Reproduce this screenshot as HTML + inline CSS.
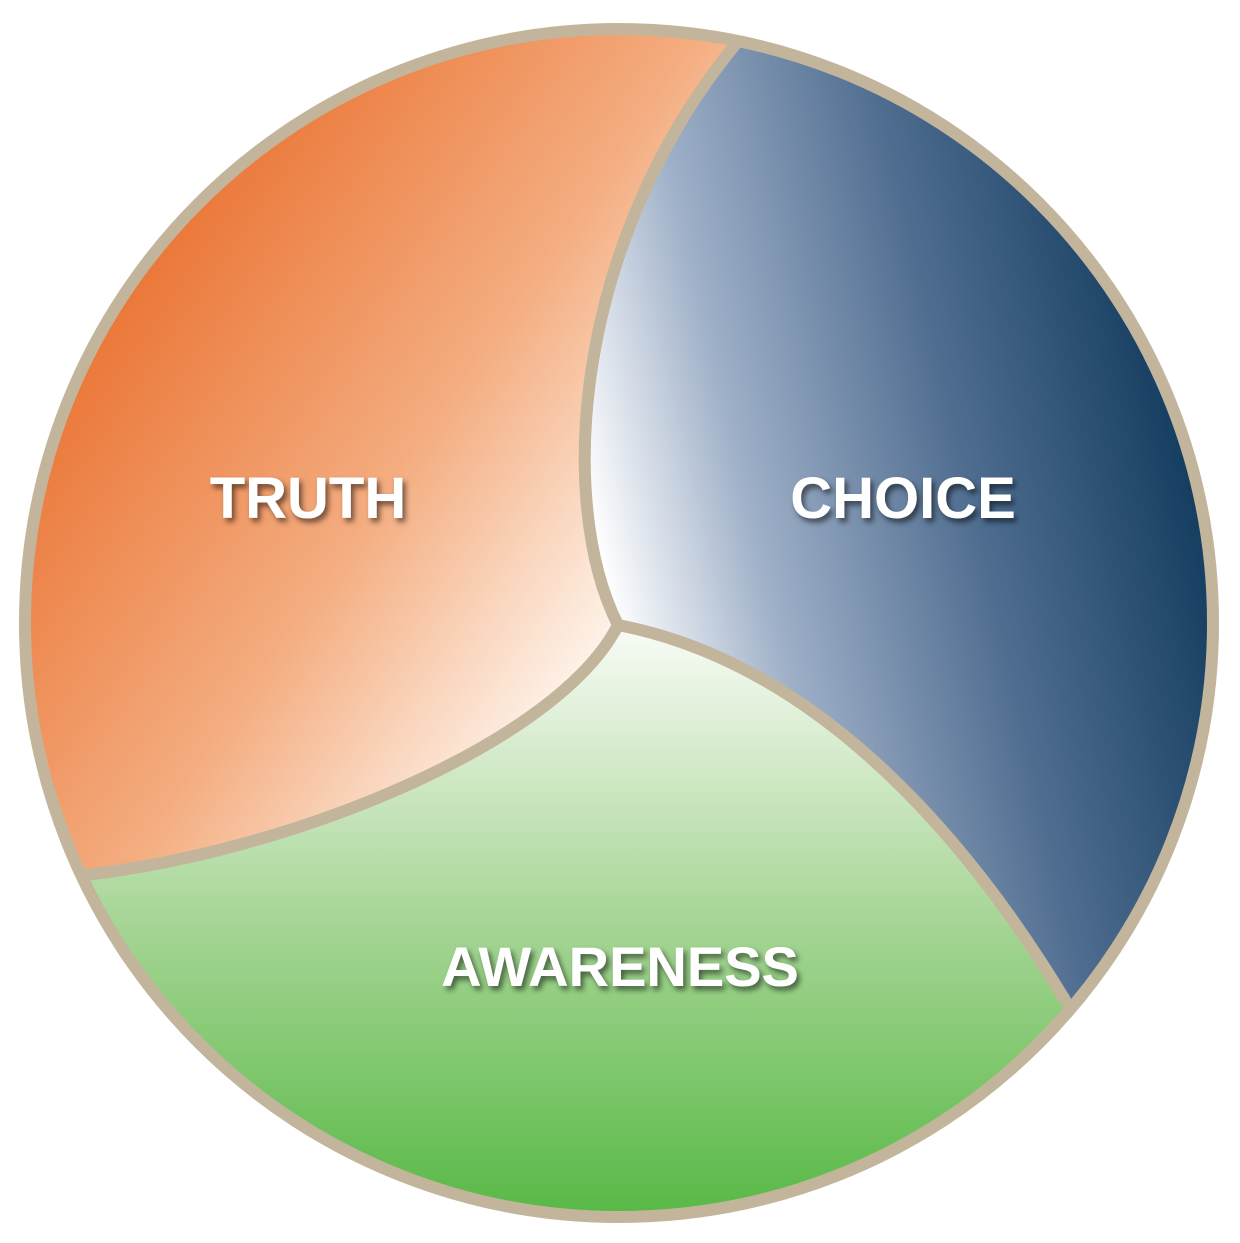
<!DOCTYPE html>
<html><head><meta charset="utf-8"><style>
html,body{margin:0;padding:0;background:#fff;}
svg{display:block;}
text{font-family:"Liberation Sans",sans-serif;font-weight:bold;fill:#fff;}
</style></head><body>
<svg width="1240" height="1243" viewBox="0 0 1240 1243" xmlns="http://www.w3.org/2000/svg">
<defs>
<clipPath id="c"><circle cx="619" cy="623" r="592"/></clipPath>
<linearGradient id="gt" x1="60" y1="330" x2="600" y2="700" gradientUnits="userSpaceOnUse">
<stop offset="0" stop-color="#ea7232"/><stop offset="0.55" stop-color="#f4ad80"/><stop offset="1" stop-color="#fffaf5"/>
</linearGradient>
<linearGradient id="gc" x1="600" y1="560" x2="1210" y2="420" gradientUnits="userSpaceOnUse">
<stop offset="0" stop-color="#ffffff"/><stop offset="0.25" stop-color="#9fb0c8"/><stop offset="0.6" stop-color="#4f6d90"/><stop offset="1" stop-color="#0d375a"/>
</linearGradient>
<linearGradient id="ga" x1="0" y1="630" x2="0" y2="1215" gradientUnits="userSpaceOnUse">
<stop offset="0" stop-color="#f8fbf5"/><stop offset="0.5" stop-color="#a6d595"/><stop offset="1" stop-color="#58b946"/>
</linearGradient>
<filter id="sh" x="-20%" y="-40%" width="140%" height="180%">
<feDropShadow dx="3" dy="4" stdDeviation="3" flood-color="#000" flood-opacity="0.55"/>
</filter>
</defs>
<g clip-path="url(#c)">
<rect x="0" y="0" width="1240" height="1243" fill="url(#ga)"/>
<path d="M618,625 C555,500 575,240 735,45 L735,0 L0,0 L0,880 L85,875 C300,850 560,740 618,625 Z" fill="url(#gt)"/>
<path d="M618,625 C555,500 575,240 735,45 L735,0 L1240,0 L1240,1010 L1065,1000 C950,810 800,660 618,625 Z" fill="url(#gc)"/>
</g>
<g fill="none" stroke="#c2b59b" stroke-width="12" stroke-linecap="round">
<path d="M618,625 C555,500 575,240 735,45"/>
<path d="M618,625 C560,740 300,850 85,875"/>
<path d="M618,625 C800,660 950,810 1065,1000"/>
<circle cx="619" cy="623" r="594"/>
</g>
<g filter="url(#sh)">
<text x="308" y="518" font-size="58" text-anchor="middle">TRUTH</text>
<text x="903" y="518" font-size="58" text-anchor="middle">CHOICE</text>
<text x="620" y="986" font-size="56" text-anchor="middle">AWARENESS</text>
</g>
</svg>
</body></html>
